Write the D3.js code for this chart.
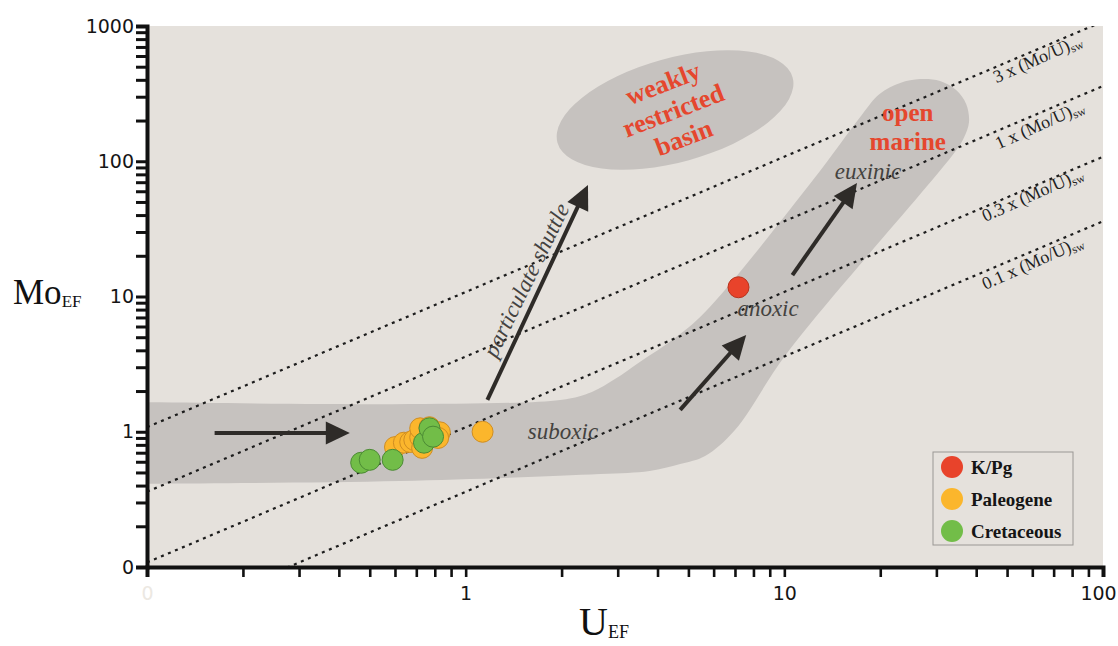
<!DOCTYPE html>
<html>
<head>
<meta charset="utf-8">
<script src="https://cdn.jsdelivr.net/npm/d3@7"></script>
<style>
  body { margin: 0; background: #ffffff; }
  svg { display: block; }
</style>
</head>
<body>
<svg id="chart" width="1118" height="646"></svg>
<script>
// ---- Sample data: [U_EF, Mo_EF] ----
const kpgSamples = [[7.18, 11.7]];
const paleogeneSamples = [
  [0.60, 0.77], [0.64, 0.83], [0.67, 0.84], [0.69, 0.87], [0.72, 0.91],
  [0.73, 0.76], [0.72, 1.06], [0.77, 1.08], [0.83, 0.99], [0.82, 0.90],
  [1.13, 1.00]
];
const cretaceousSamples = [
  [0.47, 0.59], [0.50, 0.62], [0.59, 0.62], [0.74, 0.83], [0.77, 1.06], [0.79, 0.92]
];

// ---- Reference lines: multiples of the seawater Mo/U ratio ----
const seawaterMultiples = [3, 1, 0.3, 0.1];
const seawaterRatioEF = 3.6;
const ratioLabelText = ["3 x (Mo/U)", "1 x (Mo/U)", "0.3 x (Mo/U)", "0.1 x (Mo/U)"];
const ratioLabelAnchors = [[63.4, 524], [64.4, 170], [61.2, 51.8], [61.2, 16.3]];

// ---- Axis ticks ----
const xMajorTicks = [0.1, 1, 10, 100];
const xTickLabels = ["0", "1", "10", "100"];
const yMajorTicks = [0.1, 1, 10, 100, 1000];
const yTickLabels = ["0", "1", "10", "100", "1000"];

// ---- Environmental fields ----
const openMarineField = [
  [0.03, 1.66], [0.06, 1.66], [1.98, 1.72], [2.49, 1.97], [2.94, 2.45], [3.52, 3.28],
  [4.54, 4.93], [5.64, 7.67], [12.3, 72.6], [17.5, 220], [19.9, 314], [23.1, 379],
  [26.7, 405], [30.8, 392], [34.6, 336], [37.2, 265], [37.98, 195], [36.6, 149],
  [34.3, 117], [10.2, 3.82], [7.0, 1.03], [5.64, 0.662], [4.71, 0.577], [3.78, 0.513],
  [2.64, 0.487], [0.622, 0.433], [0.06, 0.411], [0.03, 0.411]
];
const restrictedBasinCentre = [4.54, 239];

// ---- Process arrows: [from, to] ----
const processArrows = [
  [[0.163, 0.98], [0.433, 0.98]],
  [[1.17, 1.72], [2.42, 66.7]],
  [[4.71, 1.45], [7.59, 5.19]],
  [[10.6, 14.4], [16.9, 69.0]]
];

// ---- Text annotations ----
const redoxLabels = [
  { text: "suboxic", at: [2.02, 1.0], angle: 0 },
  { text: "anoxic", at: [8.89, 8.22], angle: 0 },
  { text: "euxinic", at: [18.3, 83.4], angle: 0 },
  { text: "particulate shuttle", at: [1.55, 13.2], angle: -64 }
];
const basinLabelLines = ["weakly", "restricted", "basin"];
const basinLabelAt = [4.48, 238];
const marineLabelLines = ["open", "marine"];
const marineLabelAt = [24.4, 200];

const legendItems = [
  { name: "K/Pg", color: "#e8432b", stroke: "#b8321c" },
  { name: "Paleogene", color: "#fbb62c", stroke: "#cf8d22" },
  { name: "Cretaceous", color: "#72bd48", stroke: "#4b8a34" }
];

// ---- Scales ----
const x = d3.scaleLog().domain([0.1, 100]).range([147, 1103]);
const y = d3.scaleLog().domain([0.1, 1000]).range([567, 26]);

const svg = d3.select("#chart");
const serif = "'Liberation Serif', 'Times New Roman', serif";
const sans = "'DejaVu Sans', Verdana, sans-serif";

svg.append("defs").append("clipPath").attr("id", "plot-clip")
  .append("rect")
  .attr("x", x(0.1)).attr("y", y(1000))
  .attr("width", x(100) - x(0.1)).attr("height", y(0.1) - y(1000));

// plot background
svg.append("rect")
  .attr("x", x(0.1)).attr("y", y(1000))
  .attr("width", x(100) - x(0.1)).attr("height", y(0.1) - y(1000))
  .attr("fill", "#e5e1dc");

const plot = svg.append("g").attr("clip-path", "url(#plot-clip)");

// open-marine trend field
plot.append("path")
  .datum(openMarineField)
  .attr("d", d3.line().x(d => x(d[0])).y(d => y(d[1])).curve(d3.curveCatmullRomClosed.alpha(0.5)))
  .attr("fill", "#c6c2bf");

// weakly restricted basin field
plot.append("ellipse")
  .attr("rx", 122).attr("ry", 52)
  .attr("transform", `translate(${x(restrictedBasinCentre[0])},${y(restrictedBasinCentre[1])}) rotate(-15.5)`)
  .attr("fill", "#c6c2bf");

// Mo/U ratio lines
plot.selectAll("line.ratio")
  .data(seawaterMultiples)
  .join("line")
  .attr("class", "ratio")
  .attr("x1", x(0.1)).attr("y1", k => y(k * seawaterRatioEF * 0.1))
  .attr("x2", x(100)).attr("y2", k => y(k * seawaterRatioEF * 100))
  .attr("stroke", "#1c1c1c")
  .attr("stroke-width", 2.2)
  .attr("stroke-dasharray", "3 4.6");

// ratio labels
const lineAngle = -24;
const ratioLabels = svg.append("g");
seawaterMultiples.forEach((k, i) => {
  const t = ratioLabels.append("text")
    .attr("transform", `translate(${x(ratioLabelAnchors[i][0])},${y(ratioLabelAnchors[i][1])}) rotate(${lineAngle})`)
    .attr("text-anchor", "middle")
    .attr("font-family", serif)
    .attr("font-size", 18)
    .attr("fill", "#1e1e1e");
  t.append("tspan").text(ratioLabelText[i]);
  t.append("tspan").attr("font-size", 12).attr("dy", 3).text("sw");
});

// process arrows
const arrowColor = "#2e2b28";
processArrows.forEach(([p0, p1]) => {
  const x0 = x(p0[0]), y0 = y(p0[1]), x1 = x(p1[0]), y1 = y(p1[1]);
  const dx = x1 - x0, dy = y1 - y0, len = Math.hypot(dx, dy);
  const ux = dx / len, uy = dy / len;
  const headLen = 24, headHalf = 11.5;
  const bx = x1 - ux * headLen, by = y1 - uy * headLen;
  svg.append("line")
    .attr("x1", x0).attr("y1", y0)
    .attr("x2", bx + ux * 2).attr("y2", by + uy * 2)
    .attr("stroke", arrowColor).attr("stroke-width", 4);
  svg.append("path")
    .attr("d", `M${x1},${y1}L${bx - uy * headHalf},${by + ux * headHalf}L${bx + uy * headHalf},${by - ux * headHalf}Z`)
    .attr("fill", arrowColor);
});

// redox labels
redoxLabels.forEach(d => {
  svg.append("text")
    .attr("transform", `translate(${x(d.at[0])},${y(d.at[1])}) rotate(${d.angle})`)
    .attr("text-anchor", "middle")
    .attr("dominant-baseline", "central")
    .attr("font-family", serif)
    .attr("font-style", "italic")
    .attr("font-size", 23)
    .attr("fill", "#444240")
    .text(d.text);
});

// field names
const basinText = svg.append("text")
  .attr("transform", `translate(${x(basinLabelAt[0])},${y(basinLabelAt[1])}) rotate(-21)`)
  .attr("text-anchor", "middle")
  .attr("font-family", serif)
  .attr("font-weight", "bold")
  .attr("font-size", 26)
  .attr("fill", "#e5472e");
basinLabelLines.forEach((s, i) => {
  basinText.append("tspan").attr("x", 0).attr("y", (i - 1) * 29 + 9).text(s);
});

const marineText = svg.append("text")
  .attr("transform", `translate(${x(marineLabelAt[0])},${y(marineLabelAt[1])})`)
  .attr("text-anchor", "middle")
  .attr("font-family", serif)
  .attr("font-weight", "bold")
  .attr("font-size", 25)
  .attr("fill", "#e5472e");
marineLabelLines.forEach((s, i) => {
  marineText.append("tspan").attr("x", 0).attr("y", i * 29).text(s);
});

// samples
const drawSamples = (data, item) => {
  svg.append("g").selectAll("circle")
    .data(data)
    .join("circle")
    .attr("cx", d => x(d[0]))
    .attr("cy", d => y(d[1]))
    .attr("r", 10.5)
    .attr("fill", item.color)
    .attr("stroke", item.stroke)
    .attr("stroke-width", 1);
};
drawSamples(paleogeneSamples, legendItems[1]);
drawSamples(cretaceousSamples, legendItems[2]);
drawSamples(kpgSamples, legendItems[0]);

// axes
const xMinor = [];
const yMinor = [];
for (let d = 0.1; d < 100; d *= 10) for (let m = 2; m <= 9; m++) xMinor.push(+(d * m).toPrecision(3));
for (let d = 0.1; d < 1000; d *= 10) for (let m = 2; m <= 9; m++) yMinor.push(+(d * m).toPrecision(3));

const xAxis = svg.append("g").attr("transform", `translate(0,${y(0.1)})`)
  .call(d3.axisBottom(x).tickValues(xMajorTicks.concat(xMinor)).tickSizeOuter(0).tickSize(10).tickPadding(10)
    .tickFormat(v => { const i = xMajorTicks.indexOf(v); return i >= 0 ? xTickLabels[i] : ""; }));
xAxis.select(".domain").attr("stroke", "#111").attr("stroke-width", 4);
xAxis.selectAll(".tick line").attr("stroke", "#111").attr("stroke-width", 2.6);
xAxis.selectAll(".tick text")
  .attr("font-family", sans)
  .attr("font-size", 19)
  .attr("dx", v => v === 100 ? -5 : 0)
  .attr("fill", v => v === 0.1 ? "#ece8e2" : "#151515");

const yAxis = svg.append("g").attr("transform", `translate(${x(0.1)},0)`)
  .call(d3.axisLeft(y).tickValues(yMajorTicks.concat(yMinor)).tickSizeOuter(0).tickSize(11).tickPadding(2)
    .tickFormat(v => { const i = yMajorTicks.indexOf(v); return i >= 0 ? yTickLabels[i] : ""; }));
yAxis.select(".domain").attr("stroke", "#111").attr("stroke-width", 4);
yAxis.selectAll(".tick line").attr("stroke", "#111").attr("stroke-width", 3);
yAxis.selectAll(".tick text")
  .attr("font-family", sans)
  .attr("font-size", 19)
  .attr("fill", "#151515");

// axis titles
const yTitle = svg.append("text").attr("x", 13).attr("y", 304).attr("font-family", serif).attr("fill", "#111");
yTitle.append("tspan").attr("font-size", 35).text("Mo");
yTitle.append("tspan").attr("font-size", 17).attr("dy", 3).text("EF");

const xTitle = svg.append("text").attr("x", 579).attr("y", 635).attr("font-family", serif).attr("fill", "#111");
xTitle.append("tspan").attr("font-size", 40).text("U");
xTitle.append("tspan").attr("font-size", 18).attr("dy", 3).text("EF");

// legend
const legend = svg.append("g").attr("transform", "translate(933,452)");
legend.append("rect")
  .attr("width", 140).attr("height", 93)
  .attr("fill", "#e5e1dc")
  .attr("stroke", "#9a9794").attr("stroke-width", 1);
legendItems.forEach((d, i) => {
  const row = legend.append("g").attr("transform", `translate(0,${15 + i * 32})`);
  row.append("circle").attr("cx", 19).attr("cy", 0).attr("r", 11).attr("fill", d.color);
  row.append("text")
    .attr("x", 38).attr("y", 0)
    .attr("dominant-baseline", "central")
    .attr("font-family", serif)
    .attr("font-weight", "bold")
    .attr("font-size", 19)
    .attr("fill", "#151515")
    .text(d.name);
});
</script>
</body>
</html>
